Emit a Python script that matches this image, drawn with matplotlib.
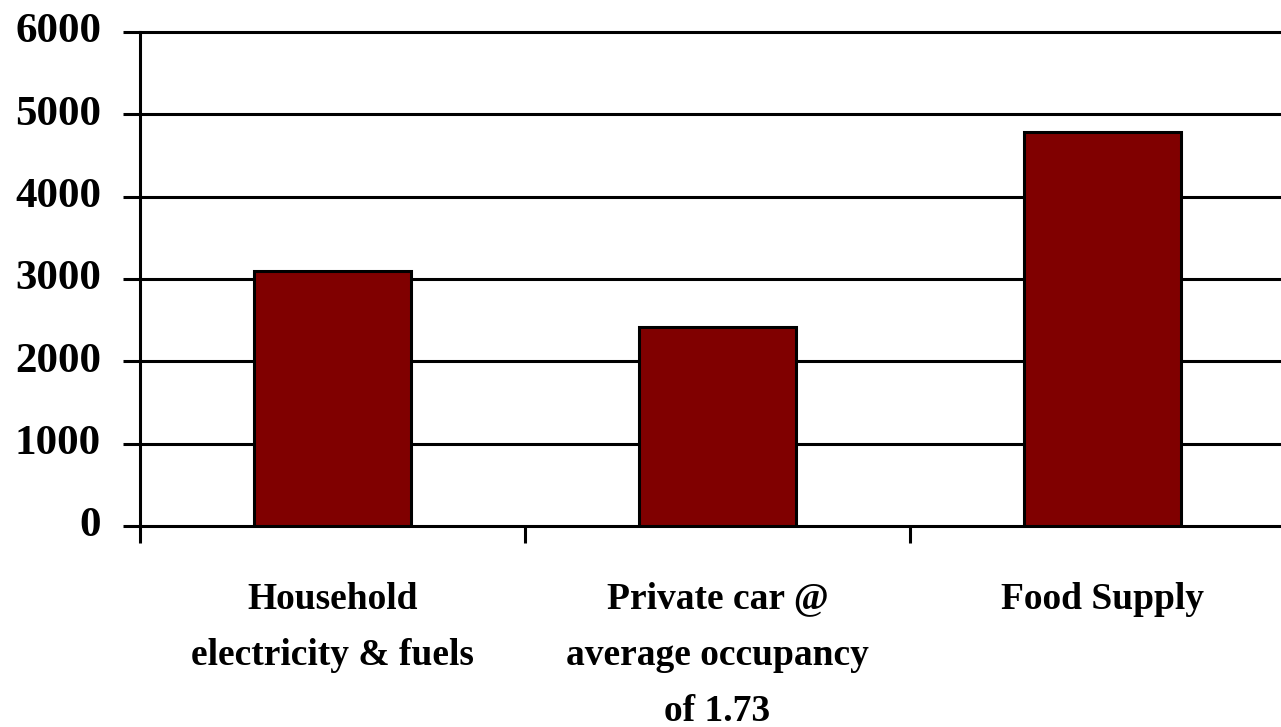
import matplotlib
matplotlib.use("Agg")
import matplotlib.pyplot as plt
import matplotlib.transforms as mtransforms
import numpy as np

# values
categories = ["Household\nelectricity & fuels",
              "Private car @\naverage occupancy\nof 1.73",
              "Food Supply"]
values = [3100, 2420, 4790]
y_ticks = [0, 1000, 2000, 3000, 4000, 5000, 6000]

plt.rcParams['font.family'] = ['Liberation Serif', 'DejaVu Serif']
plt.rcParams['font.weight'] = 'bold'

fig = plt.figure(figsize=(12.81, 7.27), dpi=100)
ax = fig.add_axes([140 / 1281, 1 - 526 / 727, 1155 / 1281, (526 - 32) / 727])

x = np.arange(len(categories))
ax.bar(x, values, width=0.41, color='#800000', edgecolor='black',
       linewidth=2.2, zorder=3)

ax.set_xlim(-0.5, len(categories) - 0.5)
ax.set_ylim(0, 6000)
ax.set_yticks(y_ticks)
ax.set_yticklabels([str(v) for v in y_ticks], fontsize=31, fontweight='bold')
for v in y_ticks:
    ax.axhline(v, color='black', linewidth=2.2, zorder=1, clip_on=False)

# ticks between categories, labels centred under the bars
ax.set_xticks(np.arange(len(categories) + 1) - 0.5)
ax.set_xticklabels([])
ax.set_xticks(x, minor=True)
ax.set_xticklabels(categories, minor=True, fontsize=27, fontweight='bold',
                   linespacing=1.78)
ax.tick_params(axis='x', which='minor', length=0, pad=40)
ax.tick_params(axis='x', which='major', length=12, width=2.2, direction='out')
ax.tick_params(axis='y', length=12, width=2.2, direction='out', pad=16)

# y labels sit a little above their gridlines in the original
shift = mtransforms.ScaledTranslation(0, 3 / 72, fig.dpi_scale_trans)
for lab in ax.get_yticklabels():
    lab.set_transform(lab.get_transform() + shift)

for s in ['top', 'right', 'bottom']:
    ax.spines[s].set_visible(False)
ax.spines['left'].set_linewidth(2.2)
ax.spines['left'].set_bounds(0, 6000)

fig.savefig("out.png", dpi=100)
